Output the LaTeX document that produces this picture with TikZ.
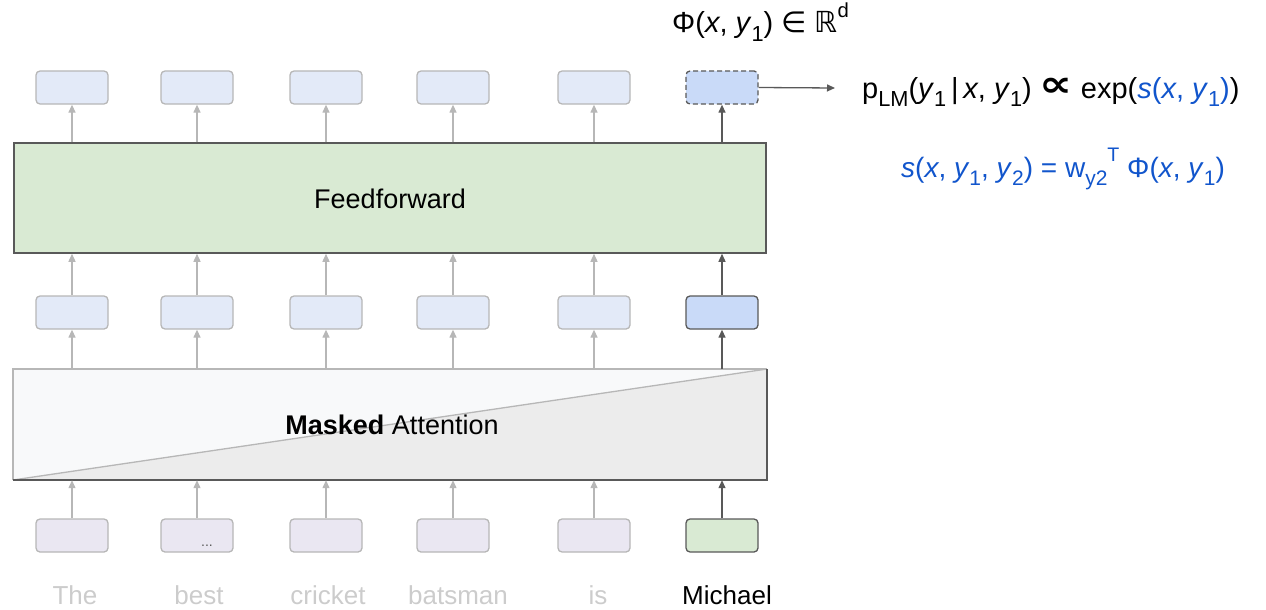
\documentclass[tikz,border=0pt]{standalone}
\usepackage{fontspec}
\setmainfont{Liberation Sans}
\newfontfamily\dejavu{DejaVu Sans}
\usetikzlibrary{arrows.meta}
\definecolor{lightfill}{HTML}{E3EAF8}
\definecolor{hifill}{HTML}{C9DAF8}
\definecolor{lavfill}{HTML}{EAE7F2}
\definecolor{greenfill}{HTML}{D9EAD3}
\definecolor{lightline}{HTML}{B7B7B7}
\definecolor{darkline}{HTML}{595959}
\definecolor{attnlight}{HTML}{F8F9FA}
\definecolor{attndark}{HTML}{ECECEC}
\definecolor{wordgray}{HTML}{CCCCCC}
\definecolor{formblue}{HTML}{1155CC}
\newcommand\mysb[1]{\raisebox{-0.3em}{\scalebox{0.75}{#1}}}
\newcommand\mysp[1]{\raisebox{0.55em}{\scalebox{0.7}{#1}}}
\begin{document}
\begin{tikzpicture}[x=1pt,y=-1pt,
  vec/.style={rectangle,rounded corners=4pt,minimum width=72pt,minimum height=33pt,inner sep=0pt,line width=1.3pt},
  lbox/.style={vec,draw=lightline,fill=lightfill},
  ibox/.style={vec,draw=lightline,fill=lavfill},
  hbox/.style={vec,draw=darkline,fill=hifill},
  garrow/.style={draw=lightline,line width=1.3pt,-{Triangle[length=8pt,width=7pt]}},
  darrow/.style={draw=darkline,line width=1.3pt,-{Triangle[length=8pt,width=7pt]}},
  word/.style={font=\fontsize{26}{30}\selectfont,text=wordgray,inner sep=0pt},
  big/.style={font=\fontsize{27}{30}\selectfont,inner sep=0pt},
  form/.style={font=\fontsize{28}{32}\selectfont,inner sep=0pt}
]
\useasboundingbox (0,0) rectangle (1266,610);

% top row
\node[lbox] (t1) at (72,87.5) {};
\node[lbox] (t2) at (197,87.5) {};
\node[lbox] (t3) at (326,87.5) {};
\node[lbox] (t4) at (453,87.5) {};
\node[lbox] (t5) at (594,87.5) {};
\node[hbox,dash pattern=on 5pt off 3pt] (t6) at (722,87.5) {};

% feedforward
\node[rectangle,draw=darkline,fill=greenfill,line width=1.5pt,minimum width=752pt,minimum height=110pt,inner sep=0pt] (ff) at (390,198) {};
\node[big] (fft) at (390,199) {Feedforward};

% middle row
\node[lbox] (m1) at (72,312.5) {};
\node[lbox] (m2) at (197,312.5) {};
\node[lbox] (m3) at (326,312.5) {};
\node[lbox] (m4) at (453,312.5) {};
\node[lbox] (m5) at (594,312.5) {};
\node[hbox] (m6) at (722,312.5) {};

% attention block
\coordinate (atl) at (13,369);
\coordinate (atr) at (767,369);
\coordinate (abl) at (13,480);
\coordinate (abr) at (767,480);
\fill[attnlight] (atl) -- (atr) -- (abl) -- cycle;
\fill[attndark] (atr) -- (abr) -- (abl) -- cycle;
\draw[lightline,line width=1.3pt] (abl) -- (atr);
\draw[lightline,line width=1.5pt] (abl) -- (atl) -- (atr);
\draw[darkline,line width=1.5pt] (atr) -- (abr) -- (abl);
\node[rectangle,minimum width=754pt,minimum height=111pt,inner sep=0pt] (att) at (390,424.5) {};
\node[big] (attt) at (392,425) {\textbf{Masked} Attention};

% bottom row
\node[ibox] (b1) at (72,535.5) {};
\node[ibox] (b2) at (197,535.5) {};
\node[ibox] (b3) at (326,535.5) {};
\node[ibox] (b4) at (453,535.5) {};
\node[ibox] (b5) at (594,535.5) {};
\node[vec,draw=darkline,fill=greenfill] (b6) at (722,535.5) {};
\node[font=\fontsize{14}{16}\selectfont,text=darkline,inner sep=0pt] (dots) at (207,546) {...};

% words
\node[word] (w1) at (75,595) {The};
\node[word] (w2) at (199,595) {best};
\node[word] (w3) at (328,595) {cricket};
\node[word] (w4) at (458,595) {batsman};
\node[word] (w5) at (598,595) {is};
\node[word,text=black] (w6) at (727,595) {Michael};

% arrows
\foreach \i in {1,...,5}{
  \draw[garrow] (t\i.south |- ff.north) -- (t\i.south);
  \draw[garrow] (m\i.north) -- (m\i.north |- ff.south);
  \draw[garrow] (m\i.south |- att.north) -- (m\i.south);
  \draw[garrow] (b\i.north) -- (b\i.north |- att.south);
}
\draw[darrow] (t6.south |- ff.north) -- (t6.south);
\draw[darrow] (m6.north) -- (m6.north |- ff.south);
\draw[darrow] (m6.south |- att.north) -- (m6.south);
\draw[darrow] (b6.north) -- (b6.north |- att.south);

% output
\coordinate (oend) at (835,88);
\draw[darrow] (t6.east) -- (oend);

\node[form,anchor=west,font=\fontsize{29}{32}\selectfont] (phi) at (672,22)
  {Φ(\textit{x}, \textit{y}\mysb{1}) {\dejavu ∈} {\dejavu ℝ}\mysp{d}};
\node[form,anchor=west,font=\fontsize{29}{32}\selectfont] (plm) at (862,92)
  {p\mysb{LM}(\textit{y}\mysb{1}\,|\,\textit{x}, \textit{y}\mysb{1}) \raisebox{0.05em}{\scalebox{1.6}[1.25]{\dejavu\bfseries ∝}} exp(\textcolor{formblue}{\textit{s}(\textit{x}, \textit{y}\mysb{1})})};
\node[form,text=formblue] (sdef) at (1063,169)
  {\textit{s}(\textit{x}, \textit{y}\mysb{1}, \textit{y}\mysb{2}) = w\mysb{y2}\mysp{T} Φ(\textit{x}, \textit{y}\mysb{1})};
\end{tikzpicture}
\end{document}
